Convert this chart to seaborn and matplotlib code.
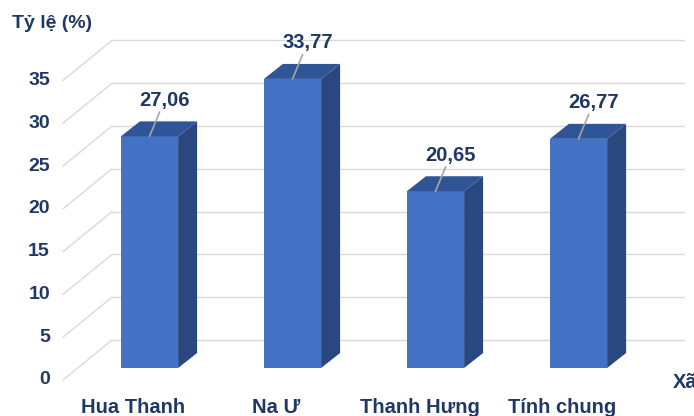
import matplotlib
matplotlib.use("Agg")
import matplotlib.pyplot as plt
import seaborn as sns
from matplotlib.patches import Polygon

# Datos del gráfico
zonas = ["Hua Thanh", "Na Ư", "Thanh Hưng", "Tính chung"]
ty_le = [27.06, 33.77, 20.65, 26.77]
etiquetas = ["27,06", "33,77", "20,65", "26,77"]
ticks_y = [0, 5, 10, 15, 20, 25, 30, 35]

# Colores estilo Excel
azul_frente = "#4472C4"
azul_arriba = "#2F5597"
azul_lado = "#2A4780"
color_texto = "#1F3864"
color_grid = "#D9D9D9"

# Geometría (en píxeles) de la vista 3D
W, H = 694, 416
PX_X = 143.0   # píxeles por categoría
PX_Y = 8.56    # píxeles por unidad
X0 = 149.5     # centro frontal de la primera barra
Y0 = 48.0      # base de las barras (desde abajo)


def px_x(px):
    return (px - X0) / PX_X


def px_y(py_top):
    return (H - py_top - Y0) / PX_Y


sns.set_style("white")
plt.rcParams["font.family"] = ["Liberation Sans", "DejaVu Sans"]

fig = plt.figure(figsize=(W / 100, H / 100), dpi=100)
ax = fig.add_axes([0, 0, 1, 1])

sns.barplot(x=zonas, y=ty_le, color=azul_frente, saturation=1, width=0.4,
            linewidth=0, ax=ax, zorder=3)

ax.set_xlim(px_x(0), px_x(W))
ax.set_ylim(-Y0 / PX_Y, (H - Y0) / PX_Y)
ax.axis("off")

# Paredes: rejilla del fondo y diagonales del lateral
atras_dx, atras_dy = 33 / PX_X, 28 / PX_Y
frente_dx, frente_dy = -16 / PX_X, -12 / PX_Y
for v in ticks_y:
    ax.plot([px_x(112), px_x(684)], [v + atras_dy, v + atras_dy],
            color=color_grid, lw=1, zorder=0)
    ax.plot([px_x(63), px_x(112)], [v + frente_dy, v + atras_dy],
            color=color_grid, lw=1, zorder=0)
    ax.text(px_x(50), v + frente_dy, str(v), ha="right", va="center",
            fontsize=14, fontweight="bold", color=color_texto)

# Caras laterales y superiores de las barras
bdx, bdy = 19 / PX_X, 15 / PX_Y
for p, lab in zip(ax.patches, etiquetas):
    x0 = p.get_x()
    w = p.get_width()
    h = p.get_height()
    x1 = x0 + w
    lado = Polygon([(x1, 0), (x1 + bdx, bdy), (x1 + bdx, h + bdy), (x1, h)],
                   closed=True, facecolor=azul_lado, edgecolor="none", zorder=3)
    arriba = Polygon([(x0, h), (x1, h), (x1 + bdx, h + bdy), (x0 + bdx, h + bdy)],
                     closed=True, facecolor=azul_arriba, edgecolor="none", zorder=3)
    ax.add_patch(lado)
    ax.add_patch(arriba)

    ax.annotate(lab, xy=(x0 + w / 2, h), xytext=(15, 36),
                textcoords="offset pixels", ha="center", va="center",
                fontsize=14.5, fontweight="bold", color=color_texto, zorder=5,
                arrowprops=dict(arrowstyle="-", color="#A6A6A6", lw=1.2,
                                patchA=None, shrinkA=9, shrinkB=0,
                                relpos=(0.5, 0.5)))

# Etiquetas de categorías en el borde frontal
for i, z in enumerate(zonas):
    ax.text(i + frente_dx, px_y(413), z, ha="center", va="baseline",
            fontsize=14.5, fontweight="bold", color=color_texto)

# Títulos de ejes
ax.text(px_x(12), px_y(23), "Tỷ lệ (%)", ha="left", va="center",
        fontsize=14, fontweight="bold", color=color_texto)
ax.text(px_x(673), px_y(383), "Xã", ha="left", va="center",
        fontsize=14.5, fontweight="bold", color=color_texto)

fig.savefig("out.png", dpi=100)
